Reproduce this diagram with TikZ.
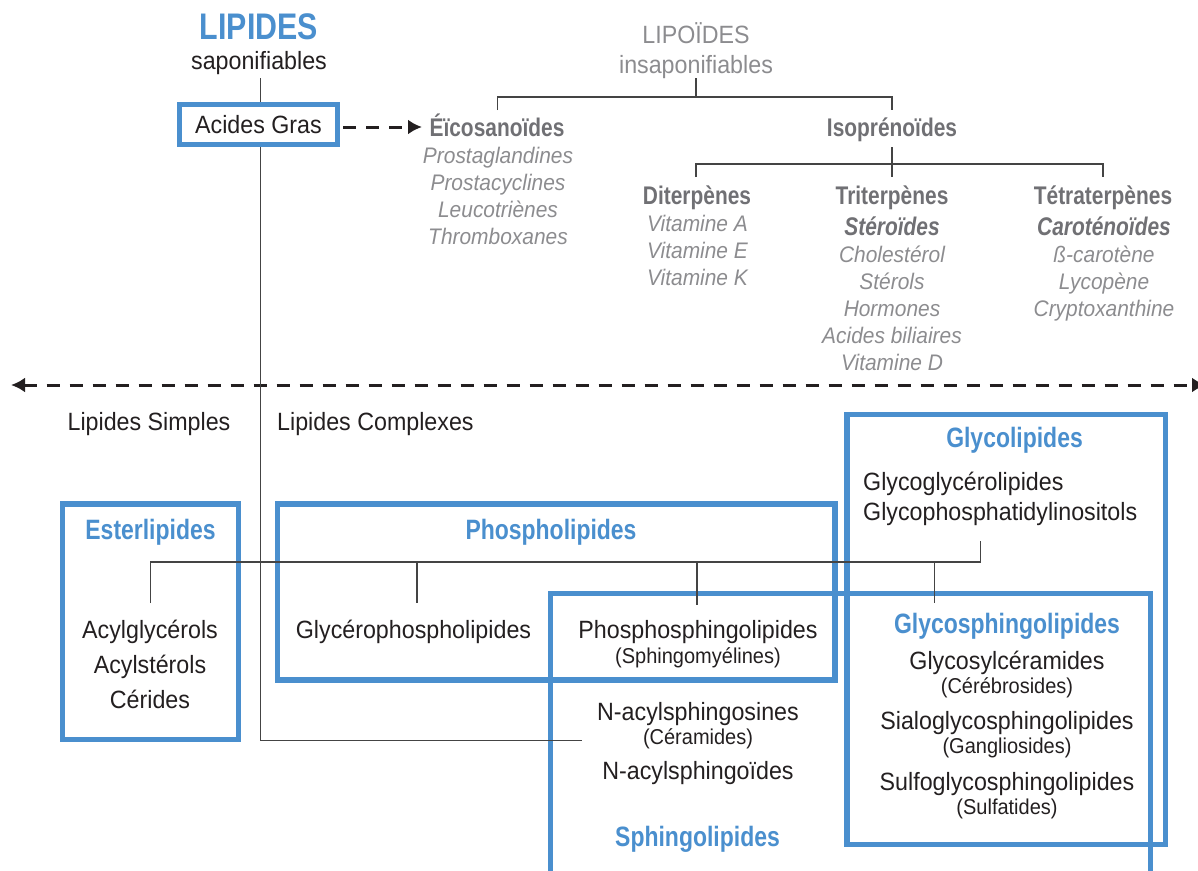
\documentclass[tikz,border=0pt]{standalone}
\usepackage{fontspec}
\setmainfont{Liberation Sans}[FakeStretch=0.93]
\newfontfamily\condf{Liberation Sans}[FakeStretch=0.82]
\usetikzlibrary{arrows.meta}
\definecolor{lblue}{RGB}{74,143,206}
\definecolor{ink}{RGB}{35,31,32}
\definecolor{gtxt}{RGB}{140,140,143}
\definecolor{gbold}{RGB}{112,112,116}
\definecolor{lineclr}{RGB}{68,68,68}
\begin{document}
\begin{tikzpicture}[x=1pt,y=-1pt,
  txt/.style={inner sep=0pt, anchor=base, text=ink, font=\fontsize{25}{30}\selectfont},
  gtx/.style={txt, text=gtxt},
  itx/.style={txt, text=gtxt, font=\fontsize{22.5}{27}\selectfont\itshape},
  gbx/.style={txt, text=gbold, font=\condf\bfseries\fontsize{25.5}{30}\selectfont},
  gbix/.style={txt, text=gbold, font=\condf\bfseries\itshape\fontsize{25.5}{30}\selectfont},
  ttl/.style={txt, text=lblue, font=\condf\bfseries\fontsize{28}{32}\selectfont},
  smx/.style={txt, font=\fontsize{21.5}{25}\selectfont},
  bluebox/.style={draw=lblue, line width=5.3},
  conn/.style={draw=lineclr, line width=1.3},
  tip/.tip={Latex[length=14,width=15]},
  dashedarrow/.style={draw=ink, line width=3, dash pattern=on 13 off 10}]
\useasboundingbox (0,0) rectangle (1198,870);

% ---------- blue boxes ----------
\draw[bluebox] (62.5,504) rectangle (238.5,739.8);
\draw[bluebox] (277.5,504) rectangle (835,680);
\draw[bluebox] (847,414.5) rectangle (1165.5,844.5);
\draw[bluebox] (550.5,885) -- (550.5,593.8) -- (1150.7,593.8) -- (1150.7,885);

% ---------- top left ----------
\node[ttl, font=\condf\bfseries\fontsize{37}{40}\selectfont] (lip) at (259,39) {LIPIDES};
\node[txt] (sap) at (259,69) {saponifiables};
\node[txt, anchor=center, draw=lblue, line width=5.3, minimum width=158, minimum height=39.5] (ag) at (258.5,124.5) {Acides Gras};

% ---------- eicosanoides ----------
\node[gbx] (eic) at (497,136) {Éïcosanoïdes};
\foreach \t [count=\i] in {Prostaglandines,Prostacyclines,Leucotriènes,Thromboxanes}
  \node[itx] (eic\i) at (498,{136+27*\i}) {\t};

% ---------- lipoides ----------
\node[gtx] (lipo) at (696,43) {LIPOÏDES};
\node[gtx] (ins) at (696,73) {insaponifiables};
\node[gbx] (iso) at (892,136) {Isoprénoïdes};

\node[gbx] (dit) at (697,204) {Diterpènes};
\foreach \t [count=\i] in {Vitamine A,Vitamine E,Vitamine K}
  \node[itx] (dit\i) at (697.5,{204+27*\i}) {\t};

\node[gbx] (tri) at (892,204) {Triterpènes};
\node[gbix] (ste) at (892,235) {Stéroïdes};
\foreach \t [count=\i] in {Cholestérol,Stérols,Hormones,Acides biliaires,Vitamine D}
  \node[itx] (tri\i) at (892,{235+27*\i}) {\t};

\node[gbx] (tet) at (1103,204) {Tétraterpènes};
\node[gbix] (car) at (1104,235) {Caroténoïdes};
\foreach \t [count=\i] in {ß-carotène,Lycopène,Cryptoxanthine}
  \node[itx] (tet\i) at (1104,{235+27*\i}) {\t};

% ---------- top trees ----------
\coordinate (tj) at (696,97);
\coordinate (ta) at (497.5,97);
\coordinate (tb) at (892,97);
\draw[conn] (ins.south) -- (tj);
\draw[conn] (ta) ++(0,13) -- (ta) -- (tb) -- ++(0,13);
\coordinate (ij) at (892,164);
\coordinate (ia) at (696,164);
\coordinate (ib) at (1103,164);
\draw[conn] (iso.south) ++(0,6) -- (892,177);
\draw[conn] (ia) ++(0,13) -- (ia) -- (ib) -- ++(0,13);

% ---------- dashed arrows ----------
\coordinate (arrE) at (422,127);
\draw[dashedarrow, -tip] (ag.east |- arrE) ++(3,0) -- (arrE);
\coordinate (dL) at (11,385);
\coordinate (dR) at (1206,385);
\draw[dashedarrow, tip-tip] (dL) -- (dR);

\node[txt] (ls) at (149,430) {Lipides Simples};
\node[txt, anchor=base west] (lc) at (277,430) {Lipides Complexes};

% ---------- main vertical ----------
\coordinate (v0) at (260.7,78);
\coordinate (vb) at (260.7,740.7);
\coordinate (ve) at (582,740.7);
\draw[conn] (v0) -- (v0 |- ag.north);
\draw[conn] (v0 |- ag.south) -- (vb) -- (ve);

% ---------- box titles and items ----------
\node[ttl] (est) at (150.5,539) {Esterlipides};
\foreach \t [count=\i] in {Acylglycérols,Acylstérols,Cérides}
  \node[txt] (est\i) at (150,{603+35*\i}) {\t};

\node[ttl] (pho) at (551,539) {Phospholipides};
\node[txt] (gph) at (413.5,638) {Glycérophospholipides};
\node[txt] (psp) at (698,638) {Phosphosphingolipides};
\node[smx] (sgm) at (698,663) {(Sphingomyélines)};

\node[txt] (nas) at (698,720) {N-acylsphingosines};
\node[smx] (cer) at (698,744) {(Céramides)};
\node[txt] (nao) at (698,779) {N-acylsphingoïdes};
\node[ttl] (sph) at (697.5,846) {Sphingolipides};

\node[ttl] (gly) at (1014.5,447) {Glycolipides};
\node[txt, anchor=base west] (ggl) at (863,490) {Glycoglycérolipides};
\node[txt, anchor=base west] (gpi) at (863,520) {Glycophosphatidylinositols};

\node[ttl] (gsl) at (1007,633) {Glycosphingolipides};
\node[txt] (gcc) at (1007,669) {Glycosylcéramides};
\node[smx] (cbr) at (1007,693) {(Cérébrosides)};
\node[txt] (sia) at (1007,729) {Sialoglycosphingolipides};
\node[smx] (gan) at (1007,753) {(Gangliosides)};
\node[txt] (sul) at (1007,790) {Sulfoglycosphingolipides};
\node[smx] (sft) at (1007,814) {(Sulfatides)};

% ---------- lower tree ----------
\coordinate (h0) at (150.7,562);
\coordinate (h1) at (417,562);
\coordinate (h2) at (697,562);
\coordinate (h3) at (934.7,562);
\coordinate (h4) at (980.7,562);
\draw[conn] (h0) ++(0,41) -- (h0) -- (h4) -- (h4 |- 0,541);
\draw[conn] (h1) -- ++(0,41);
\draw[conn] (h2) -- ++(0,43);
\draw[conn] (h3) -- ++(0,41);
\end{tikzpicture}
\end{document}
